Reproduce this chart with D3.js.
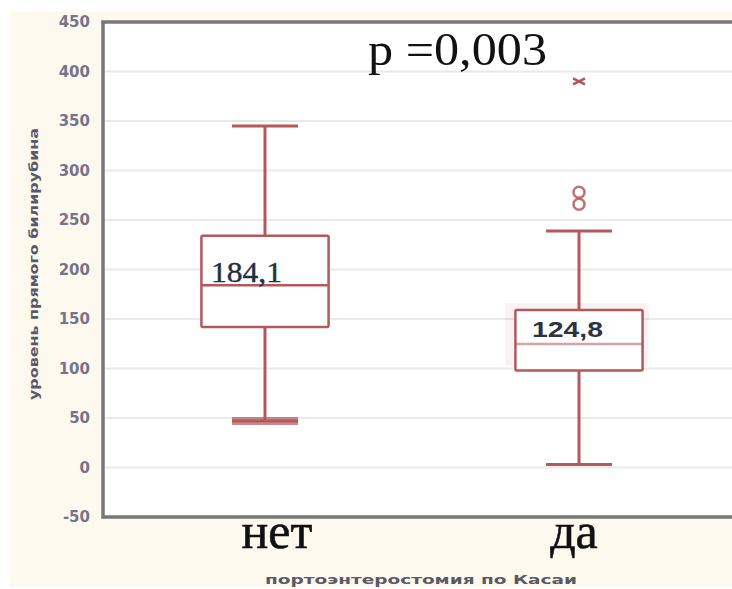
<!DOCTYPE html>
<html><head><meta charset="utf-8">
<script src="https://cdn.jsdelivr.net/npm/d3@7"></script>
<style>body{margin:0;background:#fff;}svg{display:block;}</style>
</head><body>
<svg id="c" width="732" height="589"></svg>
<script>
const categories = ["нет", "да"];
const whiskerLow  = [47, 3];
const q1          = [142, 98];
const median      = [184.1, 124.8];
const q3          = [234, 159];
const whiskerHigh = [345, 239];
const medianLabels = ["184,1", "124,8"];
const outlierCircles = [{cat: "да", v: 278}, {cat: "да", v: 266}];
const extremeCrosses = [{cat: "да", v: 390}];
const yTicks = [-50, 0, 50, 100, 150, 200, 250, 300, 350, 400, 450];
const pText = "p =0,003";
const xTitle = "портоэнтеростомия по Касаи";
const yTitle = "уровень прямого билирубина";

const svg = d3.select("#c");
const L = 103, T = 22, B = 517, R = 732;
const red = "#b5585c";

svg.append("rect").attr("x", 10).attr("y", 12).attr("width", 722).attr("height", 575).attr("fill", "#fef9ef");
svg.append("rect").attr("x", L).attr("y", T).attr("width", R - L).attr("height", B - T).attr("fill", "#fff");

const y = d3.scaleLinear().domain([-50, 450]).range([B, T]);
const x = d3.scalePoint().domain(categories).range([108, 736]).padding(0.5);
const step = x.step();
const boxW = step * 0.405, capW = step * 0.21;

// grid
svg.append("g").selectAll("line").data(yTicks.filter(t => t > -50 && t < 450)).join("line")
  .attr("x1", L).attr("x2", R).attr("y1", d => y(d)).attr("y2", d => y(d))
  .attr("stroke", "#e9e9e9").attr("stroke-width", 2);

// y axis labels
const yAxis = d3.axisLeft(y).tickValues(yTicks).tickSize(0).tickPadding(13).tickFormat(d => String(d));
const ga = svg.append("g").attr("transform", `translate(${L},0)`).call(yAxis);
ga.select(".domain").remove();
ga.selectAll("text").attr("font-family", "DejaVu Sans, sans-serif").attr("font-size", 15).attr("font-weight", "bold").attr("fill", "#77748a");

// x axis ticks
const gx = svg.append("g").attr("transform", `translate(0,${B})`).call(d3.axisBottom(x).tickSize(0).tickPadding(6).tickFormat(""));
gx.select(".domain").remove();
svg.append("g").selectAll("text").data(categories).join("text")
  .attr("x", (d, i) => x(d) + (i === 0 ? 12 : -5)).attr("y", 548).attr("text-anchor", "middle")
  .attr("font-family", "Liberation Serif, Times New Roman, serif").attr("font-size", 50).attr("fill", "#111")
  .attr("stroke", "#111").attr("stroke-width", 0.6)
  .text(d => d);

const g = svg.append("g");
// shadow behind second box
g.append("rect").attr("x", x("да") - boxW / 2 - 10).attr("y", y(q3[1]) - 7)
  .attr("width", boxW + 16).attr("height", y(q1[1]) - y(q3[1]) + 3)
  .attr("fill", red).attr("opacity", 0.08);

categories.forEach((c, i) => {
  const cx = x(c);
  g.append("line").attr("x1", cx).attr("x2", cx).attr("y1", y(whiskerHigh[i])).attr("y2", y(q3[i])).attr("stroke", red).attr("stroke-width", 3);
  g.append("line").attr("x1", cx).attr("x2", cx).attr("y1", y(q1[i])).attr("y2", y(whiskerLow[i])).attr("stroke", red).attr("stroke-width", 3);
  g.append("line").attr("x1", cx - capW / 2).attr("x2", cx + capW / 2).attr("y1", y(whiskerHigh[i])).attr("y2", y(whiskerHigh[i])).attr("stroke", red).attr("stroke-width", 3);
  if (i === 0) {
    g.append("line").attr("x1", cx - capW / 2).attr("x2", cx + capW / 2).attr("y1", y(whiskerLow[i])).attr("y2", y(whiskerLow[i])).attr("stroke", red).attr("stroke-width", 8).attr("opacity", 0.7);
  }
  g.append("line").attr("x1", cx - capW / 2).attr("x2", cx + capW / 2).attr("y1", y(whiskerLow[i])).attr("y2", y(whiskerLow[i])).attr("stroke", red).attr("stroke-width", 3);
  g.append("rect").attr("x", cx - boxW / 2).attr("y", y(q3[i])).attr("width", boxW).attr("height", y(q1[i]) - y(q3[i]))
    .attr("fill", "#fff").attr("stroke", red).attr("stroke-width", 2.5).attr("rx", 1.5);
  g.append("line").attr("x1", cx - boxW / 2).attr("x2", cx + boxW / 2).attr("y1", y(median[i])).attr("y2", y(median[i])).attr("stroke", red).attr("stroke-width", 2.5)
    .attr("opacity", i === 1 ? 0.55 : 1);
});

// median labels
g.append("text").attr("x", x("нет") - 54).attr("y", y(median[0]) - 3)
  .attr("font-family", "Liberation Serif, serif").attr("font-size", 29).attr("fill", "#1f3040").attr("stroke", "#1f3040").attr("stroke-width", 0.4)
  .attr("textLength", 71).attr("lengthAdjust", "spacingAndGlyphs").text(medianLabels[0]);
g.append("text").attr("x", x("да") - 47).attr("y", y(median[1]) - 7)
  .attr("font-family", "Liberation Sans, Arial, sans-serif").attr("font-size", 22).attr("font-weight", "bold").attr("fill", "#2a3442")
  .attr("textLength", 71).attr("lengthAdjust", "spacingAndGlyphs").text(medianLabels[1]);

// outliers
g.selectAll("circle.o").data(outlierCircles).join("circle").attr("class", "o")
  .attr("cx", d => x(d.cat)).attr("cy", d => y(d.v)).attr("r", 5.5)
  .attr("fill", "none").attr("stroke", red).attr("stroke-width", 2.5).attr("opacity", 0.85);
g.selectAll("path.x").data(extremeCrosses).join("path").attr("class", "x")
  .attr("d", d => { const cx = x(d.cat), cy = y(d.v); return `M${cx-6},${cy-3}L${cx+6},${cy+3}M${cx-6},${cy+3}L${cx+6},${cy-3}`; })
  .attr("stroke", red).attr("stroke-width", 2.5).attr("fill", "none");

// frame
svg.append("path").attr("d", `M${R},${T}H${L}V${B}H${R}`).attr("fill", "none").attr("stroke", "#777").attr("stroke-width", 3.5);

// p-value
svg.append("text").attr("x", 368).attr("y", 65).attr("font-family", "Liberation Serif, Times New Roman, serif")
  .attr("font-size", 47).attr("fill", "#111").attr("textLength", 179).attr("lengthAdjust", "spacingAndGlyphs").text(pText);

// titles
svg.append("text").attr("x", (265 + 577) / 2).attr("y", 584).attr("text-anchor", "middle")
  .attr("font-family", "DejaVu Sans, sans-serif").attr("font-size", 12).attr("font-weight", "bold").attr("fill", "#5a5a66")
  .attr("textLength", 312).attr("lengthAdjust", "spacingAndGlyphs").text(xTitle);
svg.append("text").attr("transform", "translate(38,264) rotate(-90)").attr("text-anchor", "middle")
  .attr("font-family", "DejaVu Sans, sans-serif").attr("font-size", 13).attr("font-weight", "bold").attr("fill", "#5a5a66")
  .attr("textLength", 272).attr("lengthAdjust", "spacingAndGlyphs").text(yTitle);
</script>
</body></html>
